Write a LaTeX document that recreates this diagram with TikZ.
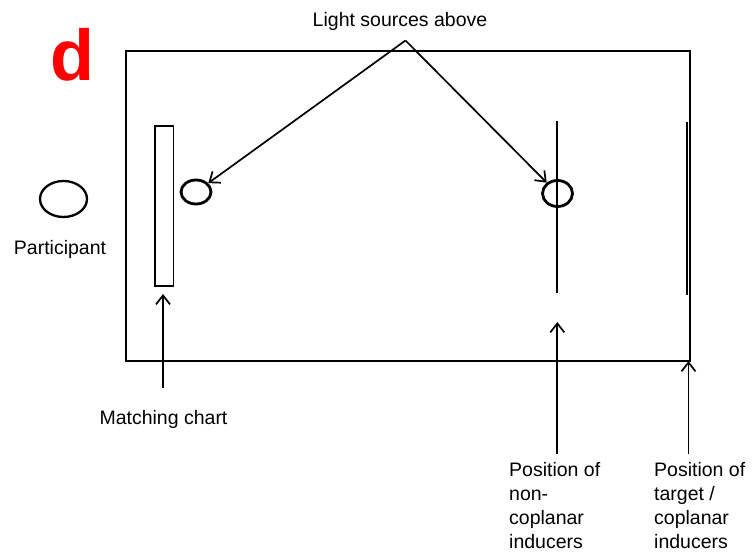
\documentclass[tikz,border=0pt]{standalone}
\usepackage{fontspec}
\setmainfont{Liberation Sans}
\usetikzlibrary{arrows.meta,shapes.geometric}
\tikzset{
  lbl/.style={inner sep=0pt, font=\fontsize{19.5}{24}\selectfont},
  pointer/.style={line width=1.7pt, -{Straight Barb[length=9pt,width=14pt,line width=1.7pt]}},
  lamp/.style={ellipse, draw, line width=2.8pt, inner sep=0pt},
  wall/.style={draw, line width=2pt},
}
\begin{document}
\begin{tikzpicture}[x=1pt,y=-1pt]
  \useasboundingbox (0,0) rectangle (752,553);

  % panel letter
  \node[anchor=base, inner sep=0pt, text=red, font=\fontsize{72}{72}\selectfont\bfseries] (panel) at (72.5,81) {d};

  % room outline
  \node[wall, minimum width=564.5pt, minimum height=310pt, inner sep=0pt, anchor=north west] (room) at (124.5,50) {};

  % participant
  \node[ellipse, draw, line width=2.3pt, inner sep=0pt, minimum width=47pt, minimum height=36pt] (part) at (63.5,199) {};
  \node[lbl, anchor=base] (partlbl) at (60,255) {Participant};

  % matching chart
  \node[draw, line width=1.7pt, inner sep=0pt, minimum width=18.5pt, minimum height=160pt, anchor=north west] (chart) at (154,125) {};

  % light sources
  \node[lamp, minimum width=30pt, minimum height=24pt] (lampL) at (196,192) {};
  \node[lamp, minimum width=30pt, minimum height=26pt] (lampR) at (557.5,193.5) {};

  % inducers
  \coordinate (ncTop) at (557,121);
  \coordinate (ncBot) at (557,293);
  \draw[line width=1.8pt] (ncTop) -- (ncBot);
  \coordinate (cpTop) at (687,122);
  \coordinate (cpBot) at (687,295);
  \draw[line width=2.8pt] (cpTop) -- (cpBot);

  % light source label and arrows
  \node[lbl, anchor=base] (lightlbl) at (400,27) {Light sources above};
  \coordinate (apex) at (405.5,40.5);
  \draw[pointer] (apex) -- (lampL);
  \draw[pointer] (apex) -- (lampR);

  % matching chart label
  \node[lbl, anchor=base] (chartlbl) at (163.5,424) {Matching chart};
  \coordinate (chartFoot) at (163,388);
  \coordinate (chartTip) at (163,294);
  \draw[pointer] (chartFoot) -- (chartTip);

  % position labels (anchored on the baseline of the last line; no descenders there)
  \node[lbl, anchor=base west, align=left, text depth=0pt] (nclbl) at (509,548.5) {Position of\\non-\\coplanar\\inducers};
  \node[lbl, anchor=base west, align=left, text depth=0pt] (cplbl) at (654,548.5) {Position of\\target /\\coplanar\\inducers};
  \coordinate (ncFoot) at (557.3,454);
  \coordinate (ncTip) at (557.3,322);
  \draw[pointer] (ncFoot) -- (ncTip);
  \coordinate (cpFoot) at (688.5,454);
  \coordinate (cpTip) at (688.5,361);
  \draw[pointer] (cpFoot) -- (cpTip);
\end{tikzpicture}
\end{document}
